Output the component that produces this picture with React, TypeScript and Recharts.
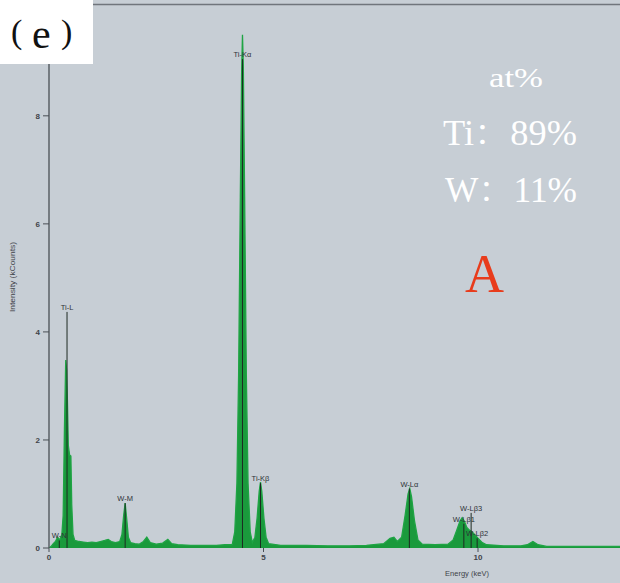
import React from 'react';
import { ComposedChart, Area, XAxis, YAxis, ReferenceLine } from 'recharts';

// Energy (keV) and intensity (kCounts)
const energy = [
  0.0, 0.05, 0.1, 0.15, 0.2, 0.25, 0.3, 0.33, 0.36, 0.39, 0.41, 0.43, 0.45, 0.48, 0.51, 0.53, 0.56, 0.6,
  0.7, 0.8, 0.9, 1.0, 1.1, 1.2, 1.3, 1.38, 1.45, 1.55, 1.65, 1.7, 1.74, 1.775, 1.81, 1.85, 1.9,
  2.0, 2.1, 2.2, 2.28, 2.36, 2.5, 2.65, 2.77, 2.86, 3.0, 3.3, 3.6, 3.9, 4.1,
  4.27, 4.33, 4.38, 4.42, 4.46, 4.49, 4.51, 4.53, 4.56, 4.6, 4.64, 4.69, 4.74,
  4.8, 4.85, 4.9, 4.93, 4.96, 5.01, 5.06, 5.12, 5.4, 6.0, 6.5, 7.0, 7.4, 7.8, 7.95, 8.04, 8.12,
  8.22, 8.3, 8.37, 8.41, 8.45, 8.52, 8.6, 8.7, 9.0, 9.3, 9.42, 9.5, 9.58, 9.63, 9.68, 9.74, 9.8,
  9.86, 9.93, 10.0, 10.1, 10.2, 10.6, 11.0, 11.15, 11.28, 11.4, 11.6, 12.5, 13.31,
];
const counts = [
  0.0, 0.03, 0.08, 0.12, 0.2, 0.15, 0.25, 0.6, 2.2, 3.48, 3.3, 2.7, 1.9, 1.72, 1.7, 0.8, 0.25, 0.14,
  0.12, 0.11, 0.1, 0.11, 0.1, 0.12, 0.14, 0.16, 0.12, 0.1, 0.12, 0.25, 0.6, 0.83, 0.55, 0.2, 0.1,
  0.08, 0.07, 0.12, 0.2, 0.1, 0.07, 0.09, 0.16, 0.08, 0.06, 0.05, 0.05, 0.05, 0.06,
  0.06, 0.3, 1.2, 3.2, 6.5, 8.8, 9.5, 8.9, 6.5, 3.2, 1.2, 0.3, 0.1,
  0.2, 0.55, 1.05, 1.22, 1.05, 0.55, 0.2, 0.08, 0.05, 0.05, 0.04, 0.04, 0.05, 0.08, 0.18, 0.2, 0.12,
  0.2, 0.6, 1.0, 1.1, 0.95, 0.5, 0.15, 0.07, 0.06, 0.07, 0.15, 0.32, 0.5, 0.56, 0.5, 0.38, 0.33,
  0.3, 0.24, 0.18, 0.1, 0.06, 0.04, 0.04, 0.06, 0.12, 0.06, 0.03, 0.03, 0.03,
];

// Peak identification markers
const markerNames = ['W-N', 'Ti-L', 'W-M', 'Ti-Kα', 'Ti-Kβ', 'W-Lα', 'W-Lβ1', 'W-Lβ3', 'W-Lβ2'];
const markerEnergy = [0.24, 0.42, 1.775, 4.51, 4.93, 8.4, 9.67, 9.84, 9.98];
const markerTop = [0.14, 4.37, 0.83, 9.05, 1.2, 1.1, 0.45, 0.65, 0.18];

const xTicks = [0, 5, 10];
const yTicks = [0, 2, 4, 6, 8];

const compositionLines = ['Ti：89%', 'W：11%'];

const data = energy.map((e, i) => ({ e, c: counts[i] }));

const W = 620;
const H = 583;
const SANS = '"Liberation Sans", Arial, sans-serif';
const SERIF = '"Liberation Serif", "Times New Roman", "Noto Serif CJK SC", serif';

export default function App() {
  return (
    <div
      style={{
        position: 'absolute',
        left: 0,
        top: 0,
        width: W,
        height: H,
        background: '#c7ced5',
        overflow: 'hidden',
      }}
    >
      <ComposedChart
        width={W}
        height={H}
        data={data}
        margin={{ top: 4, right: 0, bottom: 0, left: 0 }}
        style={{ fontFamily: SANS }}
      >
        <XAxis
          dataKey="e"
          type="number"
          domain={[0, 13.31]}
          ticks={xTicks}
          allowDataOverflow
          height={35}
          axisLine={false}
          tickLine={{ stroke: '#4a4f55', strokeWidth: 1 }}
          tickSize={4}
          tickMargin={2}
          tick={{ fontSize: 8, fill: '#3f4349', fontWeight: 700 }}
        />
        <YAxis
          dataKey="c"
          type="number"
          domain={[0, 10.07]}
          ticks={yTicks}
          allowDataOverflow
          width={49}
          axisLine={{ stroke: '#4a4f55', strokeWidth: 1.3 }}
          tickLine={{ stroke: '#4a4f55', strokeWidth: 1 }}
          tickSize={6}
          tickMargin={3}
          tick={{ fontSize: 8, fill: '#3f4349', fontWeight: 700 }}
        />
        <Area
          type="linear"
          dataKey="c"
          stroke="#1fa444"
          strokeWidth={1.3}
          fill="#1a9a3c"
          fillOpacity={1}
          isAnimationActive={false}
          dot={false}
          activeDot={false}
        />
        {markerNames.map((name, i) => (
          <ReferenceLine
            key={name}
            segment={[
              { x: markerEnergy[i], y: 0 },
              { x: markerEnergy[i], y: markerTop[i] },
            ]}
            stroke="#1d2a22"
            strokeWidth={1}
            ifOverflow="visible"
            label={{
              value: name,
              position: 'top',
              offset: 2,
              fontSize: 7.5,
              fill: '#2e3338',
              fontFamily: SANS,
            }}
          />
        ))}
      </ComposedChart>
      <svg
        width={W}
        height={H}
        style={{ position: 'absolute', left: 0, top: 0, pointerEvents: 'none' }}
      >
        <line x1={93} y1={4.5} x2={W} y2={4.5} stroke="#70757c" strokeWidth={1.5} />
        <rect x={0} y={0} width={93} height={64} fill="#ffffff" />
        <text fontFamily={SERIF} fill="#111">
          <tspan x={11} y={43} fontSize={34}>(</tspan>
          <tspan x={32} y={48} fontSize={42}>e</tspan>
          <tspan x={61} y={43} fontSize={34}>)</tspan>
        </text>
        <text
          x={12}
          y={277}
          transform="rotate(-90 12 277)"
          textAnchor="middle"
          dominantBaseline="central"
          fontFamily={SANS}
          fontSize={7.5}
          fill="#3f4349"
          textLength={70}
          lengthAdjust="spacingAndGlyphs"
        >
          Intensity (kCounts)
        </text>
        <text
          x={467}
          y={573}
          textAnchor="middle"
          dominantBaseline="central"
          fontFamily={SANS}
          fontSize={7.5}
          fill="#3f4349"
        >
          Energy (keV)
        </text>
        <text
          x={489}
          y={87}
          fontFamily={SERIF}
          fontSize={27}
          fill="#ffffff"
          textLength={54}
          lengthAdjust="spacingAndGlyphs"
        >
          at%
        </text>
        {compositionLines.map((label, i) => (
          <text
            key={label}
            x={i === 0 ? 443 : 445}
            y={145 + i * 57}
            fontFamily={SERIF}
            fontSize={35}
            fill="#ffffff"
            textLength={i === 0 ? 134 : 132}
            lengthAdjust="spacingAndGlyphs"
          >
            {label}
          </text>
        ))}
        <text x={465} y={292} fontFamily={SERIF} fontSize={54} fill="#e83c1c">
          A
        </text>
      </svg>
    </div>
  );
}
